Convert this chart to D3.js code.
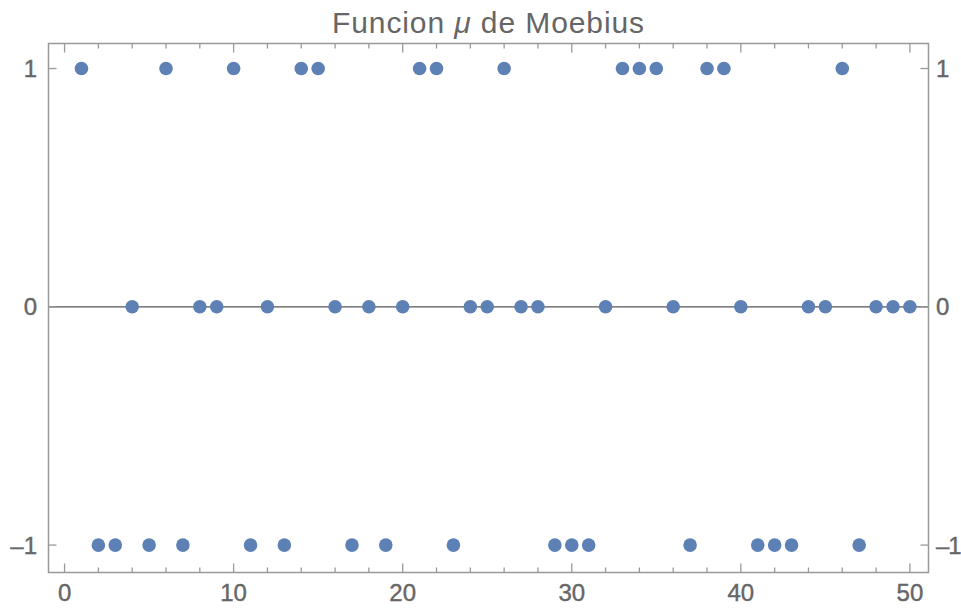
<!DOCTYPE html>
<html>
<head>
<meta charset="utf-8">
<script src="https://cdn.jsdelivr.net/npm/d3@7"></script>
<style>
  body { margin: 0; background: #fff; }
  text { font-family: "Liberation Sans", Arial, sans-serif; fill: #666; }
</style>
</head>
<body>
<svg id="chart"></svg>
<script>
// Moebius mu(n), n = 1..50
const n = d3.range(1, 51);
const mu = [1, -1, -1, 0, -1, 1, -1, 0, 0, 1,
            -1, 0, -1, 1, 1, 0, -1, 0, -1, 0,
            1, 1, -1, 0, 0, 1, 0, 0, -1, -1,
            -1, 0, 1, 1, 1, 0, -1, 1, 1, 0,
            -1, -1, -1, 0, 0, 1, -1, 0, 0, 0];
const xMajor = [0, 10, 20, 30, 40, 50];
const xMinor = d3.range(0, 52, 2);
const yTicks = [-1, 0, 1];

const width = 961, height = 610;
const svg = d3.select("#chart")
    .attr("width", width)
    .attr("height", height);

const mLeft = 48.5, mRight = 928.5, mTop = 43.5, mBottom = 572.5;

const x = d3.scaleLinear().domain([-0.95, 51.1]).range([mLeft, mRight]);
const y = d3.scaleLinear().domain([-1.115, 1.105]).range([mBottom, mTop]);

const fmt = d => d < 0 ? "\u2013" + Math.abs(d) : String(d);

// zero line
svg.append("line")
    .attr("x1", mLeft).attr("x2", mRight)
    .attr("y1", y(0)).attr("y2", y(0))
    .attr("stroke", "#555").attr("stroke-width", 1.3);

// frame
svg.append("rect")
    .attr("x", mLeft).attr("y", mTop)
    .attr("width", mRight - mLeft).attr("height", mBottom - mTop)
    .attr("fill", "none").attr("stroke", "#999").attr("stroke-width", 1.5);

// x ticks, bottom and top
const ticksG = svg.append("g").attr("stroke", "#999").attr("stroke-width", 1.3);
xMinor.forEach(v => {
    const len = v % 10 === 0 ? 9 : 5;
    ticksG.append("line").attr("x1", x(v)).attr("x2", x(v))
        .attr("y1", mBottom).attr("y2", mBottom - len);
    ticksG.append("line").attr("x1", x(v)).attr("x2", x(v))
        .attr("y1", mTop).attr("y2", mTop + len);
});
yTicks.forEach(v => {
    ticksG.append("line").attr("x1", mLeft).attr("x2", mLeft + 8)
        .attr("y1", y(v)).attr("y2", y(v));
    ticksG.append("line").attr("x1", mRight).attr("x2", mRight - 8)
        .attr("y1", y(v)).attr("y2", y(v));
});

// labels
const lab = g => g.attr("font-size", 24).attr("stroke", "#666").attr("stroke-width", 0.4);

svg.append("g").call(lab).selectAll("text").data(xMajor).join("text")
    .attr("x", d => x(d)).attr("y", 601)
    .attr("text-anchor", "middle")
    .text(fmt);

svg.append("g").call(lab).selectAll("text").data(yTicks).join("text")
    .attr("x", 37).attr("y", d => y(d) + 8.5)
    .attr("text-anchor", "end")
    .text(fmt);

svg.append("g").call(lab).selectAll("text").data(yTicks).join("text")
    .attr("x", 936).attr("y", d => y(d) + 8.5)
    .attr("text-anchor", "start")
    .attr("letter-spacing", d => d < 0 ? -1 : 0)
    .text(fmt);

const t = svg.append("text")
    .attr("x", (mLeft + mRight) / 2).attr("y", 33)
    .attr("text-anchor", "middle")
    .attr("font-size", 30)
    .attr("letter-spacing", 0.9);
t.append("tspan").text("Funcion ");
t.append("tspan").attr("font-style", "italic").text("\u03bc");
t.append("tspan").text(" de Moebius");

// points
svg.append("g").selectAll("circle").data(n).join("circle")
    .attr("cx", (d, i) => x(d))
    .attr("cy", (d, i) => y(mu[i]))
    .attr("r", 6.8)
    .attr("fill", "#5e81b5");
</script>
</body>
</html>
